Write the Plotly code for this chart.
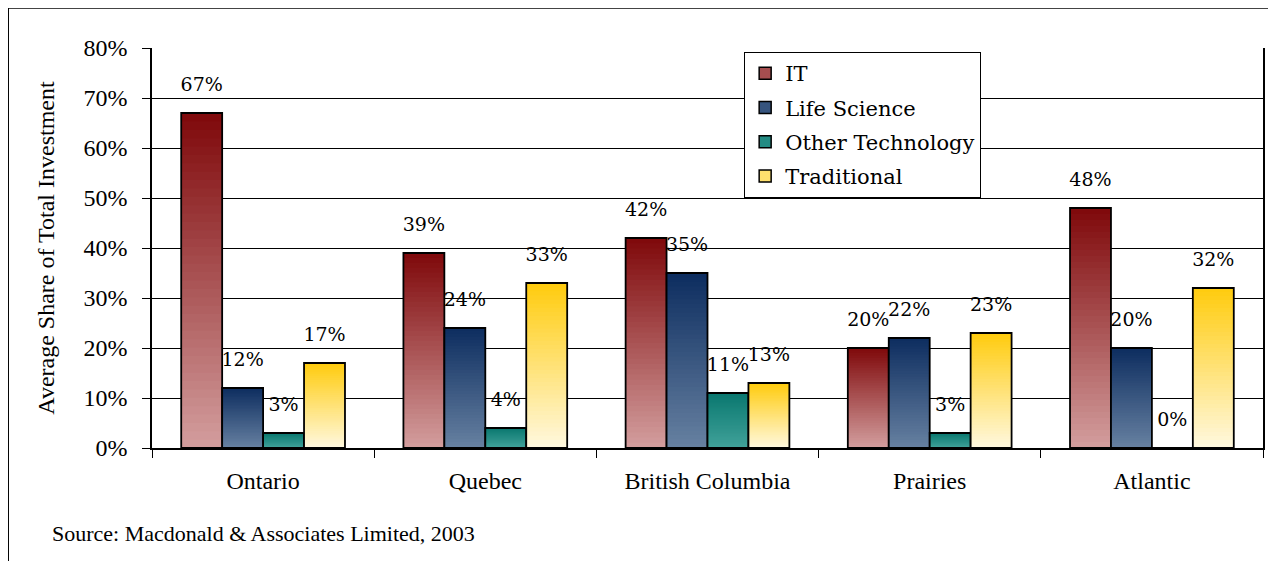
import plotly.graph_objects as go

# regions and the share of investment (%) per sector
regions = ["Ontario", "Quebec", "British Columbia", "Prairies", "Atlantic"]
it = [67, 39, 42, 20, 48]
life_science = [12, 24, 35, 22, 20]
other_tech = [3, 4, 11, 3, 0]
traditional = [17, 33, 13, 23, 32]

series_names = ["IT", "Life Science", "Other Technology", "Traditional"]
y_ticks = [0, 10, 20, 30, 40, 50, 60, 70, 80]
y_tick_text = ["0%", "10%", "20%", "30%", "40%", "50%", "60%", "70%", "80%"]
source_note = "Source: Macdonald & Associates Limited, 2003"

# gradient: colour at top of bar -> colour at bottom of bar
shades = {
    "IT": ((128, 10, 12), (212, 160, 160)),
    "Life Science": ((14, 46, 96), (104, 130, 162)),
    "Other Technology": ((10, 120, 112), (66, 162, 154)),
    "Traditional": ((255, 204, 16), (255, 249, 226)),
}
FONT = "'Liberation Serif', 'Times New Roman', serif"
# legend and point text won't pick up Liberation here, DejaVu Serif does render
FONT2 = "DejaVu Serif"
N = 40  # gradient steps


def mix(c1, c2, t):
    return "rgb(%d,%d,%d)" % tuple(round(a + (b - a) * t) for a, b in zip(c1, c2))


fig = go.Figure()
all_vals = [it, life_science, other_tech, traditional]

for name, vals in zip(series_names, all_vals):
    top, bottom = shades[name]
    # stacked-down overlays make the vertical gradient
    for k in range(N):
        frac = k / N
        fig.add_trace(go.Bar(
            x=regions, y=[v * (1 - frac) for v in vals],
            offsetgroup=name, marker=dict(color=mix(top, bottom, frac), line=dict(width=0)),
            showlegend=False, hoverinfo="skip"))
    # black outline on top
    fig.add_trace(go.Bar(
        x=regions, y=vals, offsetgroup=name, name=name,
        marker=dict(color="rgba(0,0,0,0)", line=dict(color="black", width=1.8)),
        showlegend=False, hovertemplate=name + " %{x}: %{y}%<extra></extra>"))
    # legend-only entry
    fig.add_trace(go.Bar(
        x=[None], y=[None], offsetgroup=name, name=name, legendgroup=name,
        marker=dict(color=mix(top, bottom, 0.45), line=dict(color="black", width=1.5))))
    # value labels
    fig.add_trace(go.Scatter(
        x=regions, y=vals, offsetgroup=name, mode="markers+text",
        marker=dict(size=26, opacity=0), text=[f"{v}%" for v in vals],
        textposition="top center", textfont=dict(family=FONT2, size=19, color="black"),
        showlegend=False, hoverinfo="skip", cliponaxis=False))

# page body has an 8px margin, so the figure is 8px smaller on each side
fig.update_layout(
    width=1268, height=553,
    margin=dict(l=144, r=11, t=40, b=113),
    paper_bgcolor="white", plot_bgcolor="white",
    barmode="group", bargap=0.263, bargroupgap=0,
    scattermode="group", scattergap=0.263,
    font=dict(family=FONT, size=23, color="black"),
    legend=dict(x=0.533, y=0.99, xanchor="left", yanchor="top",
                bgcolor="white", bordercolor="black", borderwidth=1,
                font=dict(family=FONT2, size=21), itemwidth=30, tracegroupgap=4),
    xaxis=dict(showline=True, linecolor="black", linewidth=1.5,
               ticks="outside", tickson="boundaries", ticklen=8, tickcolor="black",
               tickfont=dict(family=FONT, size=24), ticklabelstandoff=10),
    yaxis=dict(range=[0, 80], tickmode="array", tickvals=y_ticks, ticktext=y_tick_text,
               showline=True, linecolor="black", linewidth=1.5, mirror=True,
               ticks="outside", ticklen=8, tickcolor="black",
               showgrid=True, gridcolor="black", gridwidth=1,
               tickfont=dict(family=FONT, size=24), ticklabelstandoff=10,
               title=dict(text="Average Share of Total Investment",
                          font=dict(family=FONT, size=24), standoff=22)),
)

# outer frame lines (top and left) along the figure edge
fig.add_shape(type="line", xref="paper", yref="paper",
              x0=-0.1294, x1=1.02, y0=1.1, y1=1.1, line=dict(color="#444", width=2))
fig.add_shape(type="line", xref="paper", yref="paper",
              x0=-0.1294, x1=-0.1294, y0=1.1, y1=-0.29, line=dict(color="black", width=1.5))

fig.add_annotation(text=source_note, xref="paper", yref="paper",
                   x=-0.0916, y=-0.2125, xanchor="left", yanchor="middle",
                   showarrow=False, font=dict(family=FONT, size=22))

fig.write_html("out.html")
